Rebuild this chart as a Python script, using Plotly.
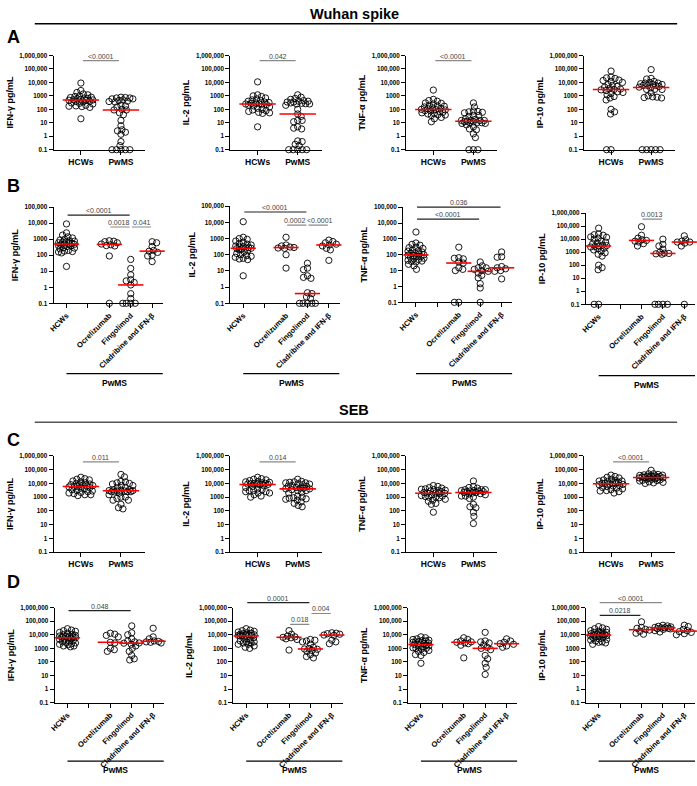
import numpy as np
import plotly.graph_objects as go

W, H = 697, 786
FONT = 'Liberation Sans, Arial, sans-serif'
GRAY = '#8a8a8a'
DARK = '#222222'

# ---- Wuhan spike (pg/mL) ----
hcw_spike_ifn = [9000, 2500, 1800, 1400, 1200, 1000, 900, 800, 750, 700, 650, 600, 550, 520, 500,
                 480, 450, 400, 380, 350, 300, 280, 250, 200, 180, 170, 160, 140, 20]
ocr_spike_ifn = [800, 750, 700, 600, 500, 450, 400, 380, 90, 0.1]
fin_spike_ifn = [55, 15, 6, 3, 2.5, 2, 1.4, 0.4, 0.2, 0.1, 0.1, 0.1, 0.1]
cla_spike_ifn = [700, 600, 350, 200, 180, 150, 100, 90, 40]

hcw_spike_il2 = [11000, 1200, 1000, 900, 700, 600, 500, 450, 400, 350, 320, 300, 280, 260, 250,
                 240, 230, 200, 180, 150, 120, 100, 90, 80, 70, 60, 55, 50, 5]
ocr_spike_il2 = [1200, 400, 350, 300, 280, 260, 250, 100, 15]
fin_spike_il2 = [30, 15, 12, 5, 4, 3.5, 0.45, 0.4, 0.25, 0.2, 0.1, 0.1, 0.1, 0.1, 0.1]
cla_spike_il2 = [800, 650, 550, 450, 400, 350, 250, 200, 45]

hcw_spike_tnf = [2700, 550, 450, 400, 300, 280, 250, 200, 180, 170, 150, 130, 120, 110, 100,
                 95, 90, 80, 75, 70, 60, 55, 50, 45, 40, 38, 35, 25, 20, 12]
ocr_spike_tnf = [300, 65, 60, 55, 35, 30, 15, 12, 10, 0.1, 0.1]
fin_spike_tnf = [35, 20, 15, 15, 12, 10, 9, 7, 5, 3.5, 1.5, 0.8, 0.1]
cla_spike_tnf = [150, 75, 70, 18, 15, 13, 10, 9, 3]

hcw_spike_ip10 = [70000, 25000, 22000, 20000, 15000, 14000, 12000, 10000, 7000, 6000, 5000, 4500,
                  3500, 3200, 3000, 2800, 2500, 2000, 1800, 1500, 1200, 900, 700, 500, 100, 65, 45,
                  0.1, 0.1]
ocr_spike_ip10 = [90000, 20000, 12000, 9000, 8000, 7000, 6000, 4500, 3000]
fin_spike_ip10 = [10000, 4000, 3000, 1700, 1000, 850, 800, 750, 700, 0.1, 0.1, 0.1, 0.1]
cla_spike_ip10 = [18000, 9000, 7000, 6000, 6000, 5000, 3000, 0.1]

# ---- SEB (pg/mL) ----
hcw_seb_ifn = [28000, 22000, 20000, 18000, 15000, 13000, 11000, 10000, 9000, 8000, 8000, 7500,
               7000, 6500, 6000, 6000, 5500, 5000, 4500, 4000, 3500, 3000, 2800, 2500, 2200, 2000,
               1800, 1500, 1500, 1300]
ocr_seb_ifn = [13000, 11000, 9000, 7000, 2800, 2500, 1000, 800, 600]
fin_seb_ifn = [45000, 14000, 10000, 5000, 3500, 3000, 2500, 2400, 2000, 1500, 1000, 600, 300, 170, 140]
cla_seb_ifn = [30000, 7000, 5000, 3500, 3200, 3000, 2800, 2500]

hcw_seb_il2 = [28000, 22000, 20000, 18000, 16000, 14000, 13000, 12000, 11000, 10000, 10000, 9500,
               9000, 9000, 8500, 8000, 7000, 6000, 5000, 4000, 3500, 3000, 3000, 2500, 2500, 2000,
               2000, 1500, 1200, 1000]
ocr_seb_il2 = [20000, 11000, 8000, 7000, 6500, 6000, 5000, 4500, 750]
fin_seb_il2 = [4500, 4000, 3500, 3000, 2000, 1200, 1000, 900, 850, 700, 600, 450, 350, 250, 200]
cla_seb_il2 = [14000, 13000, 12000, 11000, 9500, 9000, 4000, 3000, 2200]

hcw_seb_tnf = [7000, 6000, 5000, 4500, 4000, 3800, 3500, 3200, 3000, 2800, 2500, 2200, 2000, 2000,
               1900, 1800, 1500, 1300, 1200, 1100, 1000, 1000, 900, 700, 600, 500, 350, 300, 80]
ocr_seb_tnf = [6000, 4500, 3500, 3000, 2800, 2500, 2200, 1700, 200]
fin_seb_tnf = [15000, 3500, 3000, 2500, 1800, 1200, 1000, 800, 300, 170, 80, 40, 12]
cla_seb_tnf = [5000, 3500, 2800, 2200, 2000, 1500, 1200]

hcw_seb_ip10 = [40000, 32000, 28000, 25000, 20000, 18000, 16000, 15000, 15000, 14000, 12000, 11000,
                10000, 10000, 9500, 9000, 8500, 8000, 7000, 6500, 6000, 5000, 4500, 4000, 3500,
                3000, 2800, 2500, 2000]
ocr_seb_ip10 = [90000, 35000, 30000, 25000, 22000, 18000, 13000, 11000]
fin_seb_ip10 = [50000, 45000, 42000, 38000, 35000, 33000, 32000, 30000, 28000, 27000, 25000, 20000, 16000]
cla_seb_ip10 = [50000, 40000, 25000, 20000, 17000, 15000, 12000, 10000]

groups_two = ['HCWs', 'PwMS']
groups_four = ['HCWs', '', 'Ocrelizumab', 'Fingolimod', 'Cladribine and IFN-β']
ytitles = {'ifn': 'IFN-γ pg/mL', 'il2': 'IL-2 pg/mL', 'tnf': 'TNF-α pg/mL', 'ip10': 'IP-10 pg/mL'}
ytick_vals = [0.1, 1, 10, 100, 1000, 10000, 100000, 1000000]
ytick_text = ['0.1', '1', '10', '100', '1000', '10,000', '100,000', '1,000,000']

# lookup built from the arrays above
series = {(stim, cyt): (globals()['hcw_%s_%s' % (stim, cyt)], globals()['ocr_%s_%s' % (stim, cyt)],
                        globals()['fin_%s_%s' % (stim, cyt)], globals()['cla_%s_%s' % (stim, cyt)])
          for stim in ('spike', 'seb') for cyt in ('ifn', 'il2', 'tnf', 'ip10')}

# panel layout: cytokine, stimulus, n groups, left px, top px, bottom px, top decade, bracket px
panels = [
    ('ifn', 'spike', 2, 49, 52, 147, 6, None), ('il2', 'spike', 2, 227, 52, 147, 6, None),
    ('tnf', 'spike', 2, 404, 52, 147, 6, None), ('ip10', 'spike', 2, 583, 52, 147, 6, None),
    ('ifn', 'spike', 4, 49, 205, 302, 5, 373), ('il2', 'spike', 4, 227, 204, 302, 5, 373),
    ('tnf', 'spike', 4, 401, 205, 301, 5, 373), ('ip10', 'spike', 4, 585, 211, 303, 6, 375),
    ('ifn', 'seb', 2, 49, 456, 553, 6, None), ('il2', 'seb', 2, 227, 456, 553, 6, None),
    ('tnf', 'seb', 2, 404, 456, 553, 6, None), ('ip10', 'seb', 2, 583, 456, 553, 6, None),
    ('ifn', 'seb', 4, 50, 609, 705, 6, 764), ('il2', 'seb', 4, 230, 609, 705, 6, 764),
    ('tnf', 'seb', 4, 406, 609, 705, 6, 764), ('ip10', 'seb', 4, 585, 609, 705, 6, 764),
]

# significance bars: (from group, to group, height in axis domain, p value, colour, text shift px)
sig = {
    0: [(0, 1, 0.947, '<0.0001', GRAY, 0)],
    1: [(0, 1, 0.947, '0.042', GRAY, 0)],
    2: [(0, 1, 0.947, '<0.0001', GRAY, 0)],
    4: [(0, 3, 0.918, '<0.0001', DARK, 0), (2, 3, 0.794, '0.0018', GRAY, -1), (3, 4, 0.794, '0.041', GRAY, 1)],
    5: [(0, 3, 0.94, '<0.0001', DARK, 0), (2, 3, 0.806, '0.0002', GRAY, -2), (3, 4, 0.806, '<0.0001', GRAY, 2)],
    6: [(0, 4, 1.0, '0.036', DARK, 0), (0, 3, 0.875, '<0.0001', DARK, 0)],
    7: [(2, 3, 0.935, '0.0013', GRAY, 0)],
    8: [(0, 1, 0.938, '0.011', GRAY, 0)],
    9: [(0, 1, 0.938, '0.014', GRAY, 0)],
    11: [(0, 1, 0.938, '<0.0001', GRAY, 0)],
    12: [(0, 3, 0.969, '0.048', DARK, 0)],
    13: [(0, 3, 1.052, '0.0001', DARK, 0), (3, 4, 0.938, '0.004', GRAY, 0), (2, 3, 0.823, '0.018', GRAY, 0)],
    15: [(0, 3, 1.052, '<0.0001', GRAY, 0), (0, 2, 0.917, '0.0218', DARK, 0)],
}


def swarm(vals, ppd, ppu, cap, gap=4.2):
    # GraphPad-like scatter: spread points sideways (in pixels) within +-cap
    ys = np.log10(np.asarray(vals, float)) * ppd
    placed_x, placed_y = [], []
    off = np.zeros(len(ys))
    steps = np.arange(0, cap + 0.01, 0.5)
    for n, i in enumerate(np.argsort(-ys, kind='stable')):
        best, best_d = 0.0, -1.0
        for s in steps:
            for c in ((s, -s) if n % 2 else (-s, s)):
                d = min([np.hypot(c - a, ys[i] - b) for a, b in zip(placed_x, placed_y)] or [99.0])
                if d > best_d:
                    best, best_d = c, d
                if d >= gap:
                    break
            if best_d >= gap:
                break
        placed_x.append(best)
        placed_y.append(ys[i])
        off[i] = best / ppu
    return off


fig = go.Figure()
layout_axes = {}
annotations = []
shapes = []

for k, (cyt, stim, ng, left, top, bottom, dec, bracket) in enumerate(panels):
    n = k + 1
    xn, yn = ('x', 'y') if n == 1 else ('x%d' % n, 'y%d' % n)
    hcw, ocr, fin, cla = series[(stim, cyt)]
    if ng == 2:
        labels, pos, vals, xr, width, msize, cap = groups_two, [0, 1], [hcw, ocr + fin + cla], [-0.68, 1.6], 92, 26, 12
    else:
        labels, pos, vals, xr, width, msize, cap = groups_four, [0, 2, 3, 4], [hcw, ocr, fin, cla], [-0.6, 4.5], 110, 18, 8
    ppu = width / (xr[1] - xr[0])
    ppd = (bottom - top) / (dec + 1)

    for p, v in zip(pos, vals):
        fig.add_trace(go.Scatter(
            x=p + swarm(v, ppd, ppu, cap), y=v, mode='markers', xaxis=xn, yaxis=yn,
            marker=dict(symbol='circle-open', size=6.3, color='black', line=dict(width=0.9)),
            cliponaxis=False, showlegend=False, hoverinfo='y'))
    fig.add_trace(go.Scatter(
        x=pos, y=[np.median(v) for v in vals], mode='markers', xaxis=xn, yaxis=yn,
        marker=dict(symbol='line-ew', size=msize, line=dict(color='red', width=1.6)),
        cliponaxis=False, showlegend=False, hoverinfo='y'))

    layout_axes['xaxis' if n == 1 else 'xaxis%d' % n] = dict(
        domain=[left / W, (left + width) / W], anchor=yn, range=xr,
        tickvals=list(range(len(labels))), ticktext=labels, tickangle=0 if ng == 2 else -45,
        showline=True, linecolor='black', linewidth=1, ticks='outside', ticklen=4,
        tickcolor='black', showgrid=False, zeroline=False,
        tickfont=dict(family=FONT, size=8.5 if ng == 2 else 7.6, color='black', weight='bold'))
    layout_axes['yaxis' if n == 1 else 'yaxis%d' % n] = dict(
        domain=[1 - bottom / H, 1 - top / H], anchor=xn, type='log', range=[-1, dec],
        tickvals=ytick_vals[:dec + 2], ticktext=ytick_text[:dec + 2],
        showline=True, linecolor='black', linewidth=1, ticks='outside', ticklen=4,
        tickcolor='black', showgrid=False, zeroline=False,
        tickfont=dict(family=FONT, size=6.3, color='black', weight='bold'),
        title=dict(text=ytitles[cyt], standoff=4,
                   font=dict(family=FONT, size=9, color='black', weight='bold')))

    for g0, g1, yd, txt, col, shift in sig.get(k, []):
        shapes.append(dict(type='line', xref=xn, yref=yn + ' domain', x0=g0 + 0.05, x1=g1 - 0.05,
                           y0=yd, y1=yd, line=dict(color=col, width=1.2)))
        annotations.append(dict(x=(g0 + g1) / 2, y=yd, xref=xn, yref=yn + ' domain', text=txt,
                                showarrow=False, yanchor='bottom', borderpad=0, xshift=shift,
                                font=dict(family=FONT, size=7, color='#444444')))

    if bracket:
        shapes.append(dict(type='line', xref=xn, yref='paper', x0=0, x1=4.5,
                           y0=1 - bracket / H, y1=1 - bracket / H, line=dict(color='black', width=1.2)))
        annotations.append(dict(x=2.25, y=1 - (bracket + 2) / H, xref=xn, yref='paper', text='PwMS',
                                showarrow=False, yanchor='top',
                                font=dict(family=FONT, size=8.5, color='black', weight='bold')))

# stimulus headers and panel letters
for txt, ty, ly, col in [('Wuhan spike', 10, 20, 'black'), ('SEB', 410, 422, '#555555')]:
    annotations.append(dict(x=352 / W, y=1 - ty / H, xref='paper', yref='paper', text=txt,
                            showarrow=False, xanchor='center', yanchor='middle',
                            font=dict(family=FONT, size=14.5, color='black', weight='bold')))
    shapes.append(dict(type='line', xref='paper', yref='paper', x0=30 / W, x1=677 / W,
                       y0=1 - ly / H, y1=1 - ly / H, line=dict(color=col, width=1.5)))

for letter, ly in [('A', 33), ('B', 184), ('C', 440), ('D', 583)]:
    annotations.append(dict(x=8.5 / W, y=1 - ly / H, xref='paper', yref='paper', text=letter,
                            showarrow=False, xanchor='center', yanchor='middle',
                            font=dict(family=FONT, size=18, color='black', weight='bold')))

fig.update_layout(
    width=W, height=H, margin=dict(l=0, r=0, t=0, b=0), autosize=False,
    paper_bgcolor='white', plot_bgcolor='white', showlegend=False,
    font=dict(family=FONT, color='black'),
    annotations=annotations, shapes=shapes, **layout_axes)

fig.write_html("out.html", config={'displayModeBar': False},
               post_script="document.body.style.margin='0px';")
